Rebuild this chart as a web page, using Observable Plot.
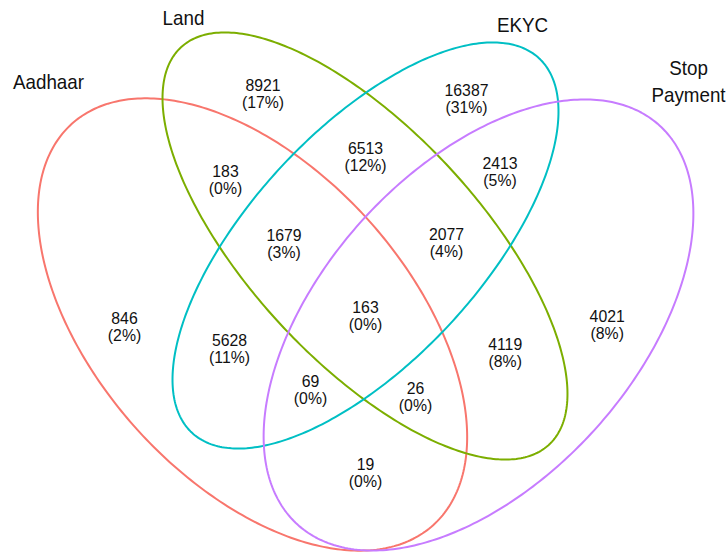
<!DOCTYPE html>
<html><head><meta charset="utf-8">
<script src="https://cdn.jsdelivr.net/npm/d3@7"></script>
<script src="https://cdn.jsdelivr.net/npm/@observablehq/plot@0.6"></script>
<style>html,body{margin:0;padding:0;background:#fff}</style>
</head><body><div id="chart"></div>
<script>
// ---- data ----
const sets = ["Aadhaar", "Land", "EKYC", "Stop Payment"];
const setColors = ["#F8766D", "#7CAE00", "#00BFC4", "#C77CFF"];
const regions = ["A","L","E","S","AL","LE","ES","AS","AE","LS","ALE","LES","ALS","AES","ALES"];
const counts  = [846, 8921, 16387, 4021, 183, 6513, 2413, 19, 5628, 4119, 1679, 2077, 26, 69, 163];

// ---- layout (pixel geometry of the diagram) ----
const ellipseGeom = [
  {cx: 252,   cy: 324,   a: 270,   b: 156,   angle: 48},
  {cx: 364.5, cy: 245.5, a: 270.8, b: 115.2, angle: 47.2},
  {cx: 365,   cy: 245,   a: 255.3, b: 115.3, angle: 132.8},
  {cx: 478,   cy: 324.5, a: 269.4, b: 156.4, angle: 132.2}
];
const regionPos = {
  A:[124,318], L:[262.5,85.5], E:[466,90], S:[606.7,316],
  AL:[225,171.5], LE:[365,148.5], ES:[499.5,163], AS:[365,464],
  AE:[229,340], LS:[504.7,344.5], ALE:[283.5,235], LES:[446,234],
  ALS:[415,388], AES:[310,381.5], ALES:[365,307]
};
const setLabelPos = [[48,80],[183,16],[522,23],[688,79]];

const total = d3.sum(counts);
const regionData = regions.map((r,i) => ({
  label: `${counts[i]}\n(${Math.round(100*counts[i]/total)}%)`,
  x: regionPos[r][0], y: regionPos[r][1] + 8.5
}));
const setLabelData = sets.map((s,i) => ({
  label: s === "Stop Payment" ? "Stop\nPayment" : s,
  x: setLabelPos[i][0], y: setLabelPos[i][1]
}));

const outline = [];
ellipseGeom.forEach((e, i) => {
  const th = e.angle * Math.PI / 180;
  const N = 360;
  for (let k = 0; k <= N; k++) {
    const t = 2 * Math.PI * k / N;
    outline.push({
      set: sets[i],
      x: e.cx + e.a * Math.cos(t) * Math.cos(th) - e.b * Math.sin(t) * Math.sin(th),
      y: e.cy + e.a * Math.cos(t) * Math.sin(th) + e.b * Math.sin(t) * Math.cos(th)
    });
  }
});

const svg = Plot.plot({
  width: 727, height: 554,
  margin: 0,
  style: {background: "#fff", fontFamily: "'Liberation Sans', Arial, sans-serif"},
  x: {domain: [0, 727], range: [0, 727], axis: null},
  y: {domain: [0, 554], range: [0, 554], axis: null},
  color: {domain: sets, range: setColors},
  marks: [
    Plot.line(outline, {x: "x", y: "y", z: "set", stroke: "set", strokeWidth: 2}),
    Plot.text(regionData, {x: "x", y: "y", text: "label", fontSize: 17, lineHeight: 1, fill: "#111", className: "nums"}),
    Plot.text(setLabelData, {x: "x", y: "y", text: "label", fontSize: 20, lineHeight: 1.35, fill: "#111", className: "setlab"})
  ]
});
document.getElementById("chart").appendChild(svg);

function squeeze(sel, s) {
  d3.select(svg).selectAll(sel).each(function() {
    const tr = this.getAttribute("transform") || "";
    this.setAttribute("transform", tr + ` scale(${s},1)`);
  });
}
squeeze(".nums text", 0.93);
squeeze(".setlab text", 0.94);
</script>
</body></html>
